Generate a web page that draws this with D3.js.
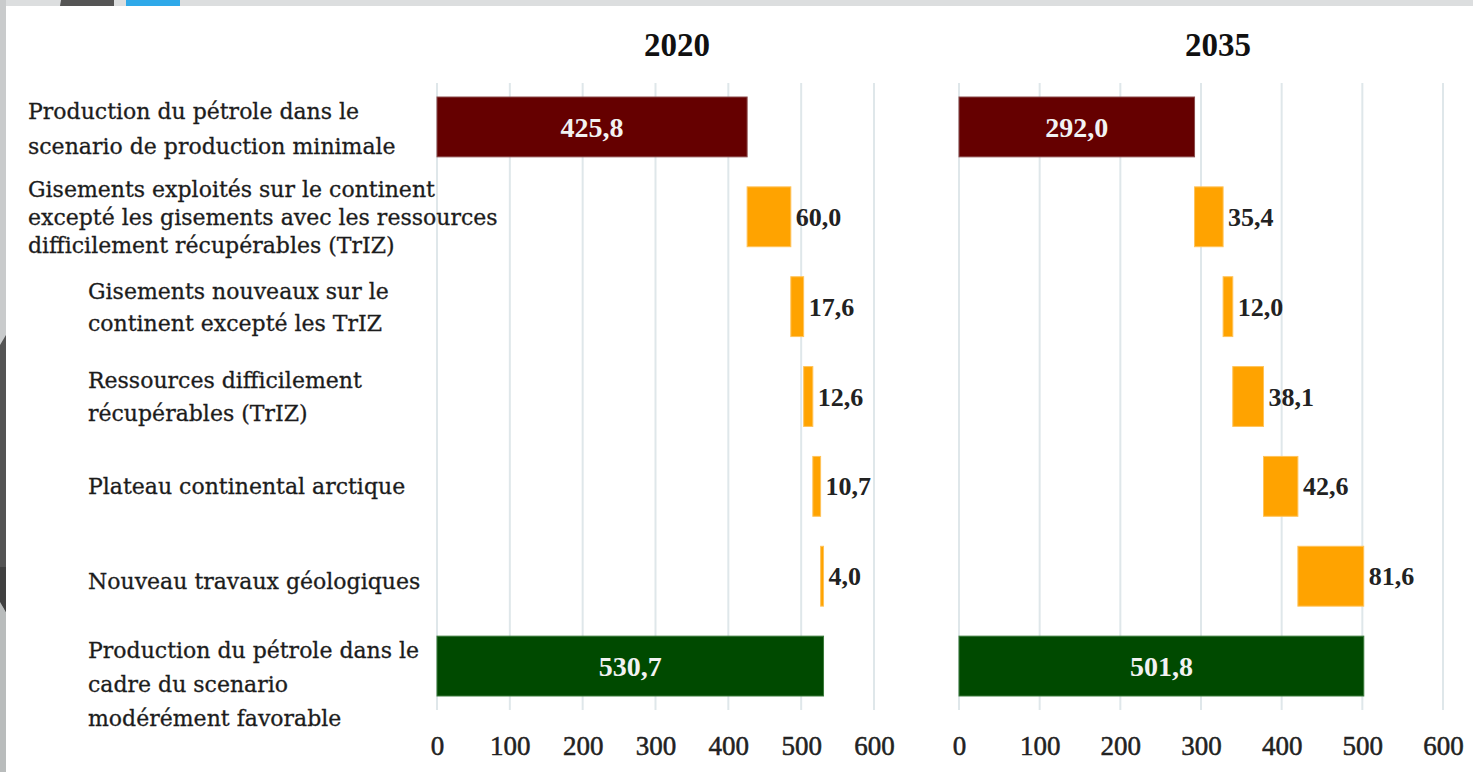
<!DOCTYPE html>
<html><head><meta charset="utf-8">
<script src="https://cdn.jsdelivr.net/npm/d3@7"></script>
<style>
html,body{margin:0;padding:0;background:#fff;overflow:hidden}
svg{display:block}
</style>
</head><body>
<svg id="chart" width="1473" height="772"></svg>
<script>
// ---------- data ----------
const categories = [
  "Production du pétrole dans le\nscenario de production minimale",
  "Gisements exploités sur le continent\nexcepté les gisements avec les ressources\ndifficilement récupérables (TrIZ)",
  "Gisements nouveaux sur le\ncontinent excepté les TrIZ",
  "Ressources difficilement\nrécupérables (TrIZ)",
  "Plateau continental arctique",
  "Nouveau travaux géologiques",
  "Production du pétrole dans le\ncadre du scenario\nmodérément favorable"
];
const barKinds = ["start", "step", "step", "step", "step", "step", "end"];
const values2020 = [425.8, 60.0, 17.6, 12.6, 10.7, 4.0, 530.7];
const values2035 = [292.0, 35.4, 12.0, 38.1, 42.6, 81.6, 501.8];
const valueLabels2020 = ["425,8", "60,0", "17,6", "12,6", "10,7", "4,0", "530,7"];
const valueLabels2035 = ["292,0", "35,4", "12,0", "38,1", "42,6", "81,6", "501,8"];
const panelTitles = ["2020", "2035"];
const tickValues = [0, 100, 200, 300, 400, 500, 600];

// ---------- layout / style ----------
const W = 1473, H = 772;
const svg = d3.select("#chart");
const colors = {start: "#650000", step: "#FFA300", end: "#004A00"};
const strokes = {start: "#8a4a4a", step: "#ffc35a", end: "#3a7a3a"};

// frame decoration (slide background)
svg.append("rect").attr("x", 0).attr("y", 0).attr("width", W).attr("height", 6).attr("fill", "#dcdedf");
svg.append("rect").attr("x", 0).attr("y", 0).attr("width", 6).attr("height", H).attr("fill", "#c9cbcc");
svg.append("rect").attr("x", 0).attr("y", 600).attr("width", 6).attr("height", H - 600).attr("fill", "#b9bcbc");
svg.append("path").attr("d", "M0,345 L6,335 L6,612 L0,600 Z").attr("fill", "#545454");
svg.append("path").attr("d", "M0,567 L6,567 L6,612 L0,602 Z").attr("fill", "#404040");
svg.append("path").attr("d", "M61,0 L114,0 L114,6 L60,6 Z").attr("fill", "#555555");
svg.append("rect").attr("x", 126).attr("y", 0).attr("width", 54).attr("height", 6).attr("fill", "#2fa9e9");

const y = d3.scaleBand().domain(d3.range(categories.length)).range([82, 711]).paddingInner(0.334).paddingOuter(0.167);

const panels = [
  {title: panelTitles[0], values: values2020, labels: valueLabels2020, x0: 437, x1: 874, tx: 677},
  {title: panelTitles[1], values: values2035, labels: valueLabels2035, x0: 959, x1: 1443, tx: 1218}
];

panels.forEach(p => {
  const x = d3.scaleLinear().domain([0, 600]).range([p.x0, p.x1]);
  const g = svg.append("g");

  // gridlines
  g.selectAll("line.grid").data(tickValues).join("line")
    .attr("x1", d => x(d)).attr("x2", d => x(d))
    .attr("y1", 83).attr("y2", 710)
    .attr("stroke", "#dfe7ea").attr("stroke-width", 2);

  // axis
  const axis = d3.axisBottom(x).tickValues(tickValues).tickSize(0).tickPadding(0).tickFormat(d3.format("d"));
  const ag = g.append("g").attr("transform", "translate(0,736)").call(axis);
  ag.select(".domain").remove();
  ag.selectAll("text").attr("font-family", "'Liberation Serif', serif").attr("font-size", 27)
    .attr("fill", "#222").attr("stroke", "#222").attr("stroke-width", 0.5)
    .attr("dy", "0.35em").attr("y", 10);

  // waterfall geometry
  let cum = 0;
  const bars = p.values.map((v, i) => {
    const k = barKinds[i];
    let a, b;
    if (k === "start") { a = 0; b = v; cum = v; }
    else if (k === "step") { a = cum; b = cum + v; cum = b; }
    else { a = 0; b = v; }
    return {i, k, a, b, label: p.labels[i]};
  });

  g.selectAll("rect.bar").data(bars).join("rect")
    .attr("x", d => x(d.a)).attr("width", d => x(d.b) - x(d.a))
    .attr("y", d => y(d.i)).attr("height", y.bandwidth())
    .attr("fill", d => colors[d.k]).attr("stroke", d => strokes[d.k]).attr("stroke-width", 1);

  g.selectAll("text.val").data(bars).join("text")
    .attr("x", d => d.k === "step" ? x(d.b) + 5 : (x(d.a) + x(d.b)) / 2)
    .attr("y", d => y(d.i) + y.bandwidth() / 2)
    .attr("dy", "0.35em")
    .attr("text-anchor", d => d.k === "step" ? "start" : "middle")
    .attr("font-family", "'Liberation Serif', serif")
    .attr("font-weight", "bold")
    .attr("font-size", d => d.k === "step" ? 26 : 28)
    .attr("fill", d => d.k === "step" ? "#222" : "#f2f2f2")
    .text(d => d.label);

  // title
  svg.append("text").attr("x", p.tx).attr("y", 44).attr("dy", "0.35em")
    .attr("text-anchor", "middle").attr("font-family", "'Liberation Serif', serif")
    .attr("font-weight", "bold").attr("font-size", 33).attr("fill", "#111").text(p.title);
});

// category labels
const labelX = [28, 28, 88, 88, 88, 88, 88];
const lineGap = [35, 28, 32, 33, 0, 0, 34];
const labelShift = [2, 1, 1, 0, 0, 5, 18];
const lg = svg.append("g").attr("font-family", "'DejaVu Serif', serif").attr("font-size", 22)
  .attr("fill", "#1c1c1c").attr("stroke", "#1c1c1c").attr("stroke-width", 0.3);
categories.forEach((c, i) => {
  const lines = c.split("\n");
  const cy = y(i) + y.bandwidth() / 2 + labelShift[i];
  const t = lg.append("text").attr("x", labelX[i]);
  lines.forEach((ln, j) => {
    t.append("tspan").attr("x", labelX[i])
      .attr("y", cy + (j - (lines.length - 1) / 2) * lineGap[i])
      .attr("dy", "0.35em").text(ln);
  });
});
</script>
</body></html>
